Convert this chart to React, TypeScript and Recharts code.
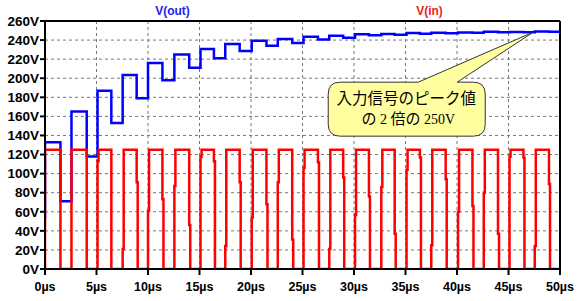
import React from "react";
import {
  CartesianGrid,
  Line,
  LineChart,
  ReferenceDot,
  ReferenceLine,
  XAxis,
  YAxis,
} from "recharts";

// input square wave: edge times (µs) and the kink level seen on each edge (V)
const riseTimes = [0, 2.57, 5.1, 7.54, 10.0, 12.56, 15.1, 17.5, 20.07, 22.6, 25.1, 27.6, 30.1, 32.65, 35.1, 37.5, 40.1, 42.6, 45.1, 47.55];
const fallTimes = [1.5, 4.05, 6.44, 8.9, 11.4, 14.0, 16.4, 18.9, 21.5, 24.0, 26.5, 28.95, 31.45, 33.95, 36.4, 38.9, 41.5, 43.98, 46.45, 48.93];
const riseKinks = [null, null, 113, 21, 61, 87, 118, 24, 54, 91, 106, 21, 57, 86, 104, 25, 60, 80, 118, 24];
const fallKinks = [null, null, null, 91, 73, 46, 113, 91, 68, 31, 112, 96, 76, 37, 117, 94, 66, 37, 117, 89];
const inHigh = 125;

// output (doubler) levels: start value, level after each rise, level after each fall
const outStart = 53;
const outHigh = [133, 165, 187, 203.5, 216, 225, 230.7, 236, 239.4, 241, 243.5, 244.6, 246, 246.5, 247.3, 247.6, 248, 248.6, 248.5, 249];
const outLow = [71, 118, 153, 179, 198, 211, 221, 228.6, 234, 237, 240.5, 242.5, 245, 245.6, 246.6, 247.2, 247.7, 248.1, 248.3, 248.8];

const xTicks = [0, 5, 10, 15, 20, 25, 30, 35, 40, 45, 50];
const yTicks = [0, 20, 40, 60, 80, 100, 120, 140, 160, 180, 200, 220, 240, 260];

const calloutAt = { t: 47.4, v: 248.3 };
const calloutTitle = "入力信号のピーク値";
// second line: [text, isLatin]
const calloutSecond: [string, boolean][] = [
  ["の", false],
  [" 2 ", true],
  ["倍の", false],
  [" 250V", true],
];

const KINK_STEP = 0.1;

const vinData: { t: number; v: number }[] = [];
riseTimes.forEach((r, i) => {
  const rk = riseKinks[i];
  vinData.push({ t: r, v: 0 });
  if (rk != null) {
    vinData.push({ t: r, v: rk }, { t: r + KINK_STEP, v: rk }, { t: r + KINK_STEP, v: inHigh });
  } else {
    vinData.push({ t: r, v: inHigh });
  }
  const f = fallTimes[i];
  const fk = fallKinks[i];
  vinData.push({ t: f, v: inHigh });
  if (fk != null) {
    vinData.push({ t: f, v: fk }, { t: f + KINK_STEP, v: fk }, { t: f + KINK_STEP, v: 0 });
  } else {
    vinData.push({ t: f, v: 0 });
  }
});
vinData.push({ t: 50, v: 0 });

const voutData: { t: number; v: number }[] = [{ t: 0, v: outStart }];
riseTimes.forEach((r, i) => {
  if (i > 0) voutData.push({ t: r, v: outLow[i - 1] });
  voutData.push({ t: r, v: outHigh[i] });
  voutData.push({ t: fallTimes[i], v: outHigh[i] });
  voutData.push({ t: fallTimes[i], v: outLow[i] });
});
voutData.push({ t: 50, v: outLow[outLow.length - 1] });

const Callout = (props: any) => {
  const { cx, cy } = props;
  if (cx == null || cy == null) return null;
  const L = -205, R = -48, T = 50, B = 104, r = 12;
  const p1 = -115, p2 = -76;
  const d = `M${L + r},${T} L${p1},${T} L0,0 L${p2},${T} L${R - r},${T} Q${R},${T} ${R},${T + r} L${R},${B - r} Q${R},${B} ${R - r},${B} L${L + r},${B} Q${L},${B} ${L},${B - r} L${L},${T + r} Q${L},${T} ${L + r},${T} Z`;
  return (
    <g transform={`translate(${cx},${cy})`}>
      <path d={d} fill="#ffffa0" stroke="#333" strokeWidth={1} />
      <text x={-127} y={71.5} textAnchor="middle" fontSize={15.5} fontFamily="'Noto Sans CJK JP'" fill="#000">
        {calloutTitle}
      </text>
      <text x={-125} y={91.5} textAnchor="middle" fill="#000">
        {calloutSecond.map(([s, latin], i) => (
          <tspan
            key={i}
            fontSize={latin ? 14 : 15}
            fontFamily={latin ? "'Liberation Serif'" : "'Noto Sans CJK JP'"}
            style={{ whiteSpace: "pre" }}
          >
            {s}
          </tspan>
        ))}
      </text>
    </g>
  );
};

export default function App() {
  return (
    <div style={{ position: "absolute", left: 0, top: 0, width: 579, height: 301, background: "#fff" }}>
      <LineChart width={579} height={301} margin={{ top: 21, right: 19, left: 0, bottom: 0 }}>
        <CartesianGrid stroke="#777" strokeDasharray="3 3" />
        <XAxis
          dataKey="t"
          type="number"
          domain={[0, 50]}
          ticks={xTicks}
          interval={0}
          tickFormatter={(v) => `${v}µs`}
          height={32}
          axisLine={{ stroke: "#000", strokeWidth: 2 }}
          tickLine={{ stroke: "#000", strokeWidth: 2 }}
          tickSize={6}
          tickMargin={7}
          tick={{ fill: "#000", fontSize: 12.5, fontWeight: "bold", fontFamily: "'Liberation Sans', Arial" }}
          allowDataOverflow
        />
        <YAxis
          type="number"
          domain={[0, 260]}
          ticks={yTicks}
          interval={0}
          tickFormatter={(v) => `${v}V`}
          width={45}
          axisLine={{ stroke: "#000", strokeWidth: 2 }}
          tickLine={{ stroke: "#000", strokeWidth: 2 }}
          tickSize={5}
          tickMargin={1}
          tick={{ fill: "#000", fontSize: 13.5, fontWeight: "bold", fontFamily: "'Liberation Sans', Arial" }}
          allowDataOverflow
        />
        <ReferenceLine y={260} stroke="#000" strokeWidth={2} />
        <ReferenceLine x={50} stroke="#000" strokeWidth={2} />
        <Line
          data={voutData}
          dataKey="v"
          type="linear"
          stroke="#0000ff"
          strokeWidth={2.5}
          dot={false}
          activeDot={false}
          isAnimationActive={false}
        />
        <Line
          data={vinData}
          dataKey="v"
          type="linear"
          stroke="#ff0000"
          strokeWidth={2.5}
          dot={false}
          activeDot={false}
          isAnimationActive={false}
        />
        <ReferenceDot x={calloutAt.t} y={calloutAt.v} r={0} shape={Callout} />
      </LineChart>
      <svg width={579} height={21} style={{ position: "absolute", left: 0, top: 0 }}>
        <text x={172.5} y={15} textAnchor="middle" fontSize={12} fontWeight="bold" fontFamily="'Liberation Sans', Arial" fill="#2222ee">
          V(out)
        </text>
        <text x={429.5} y={15} textAnchor="middle" fontSize={12} fontWeight="bold" fontFamily="'Liberation Sans', Arial" fill="#ee2222">
          V(in)
        </text>
      </svg>
    </div>
  );
}
